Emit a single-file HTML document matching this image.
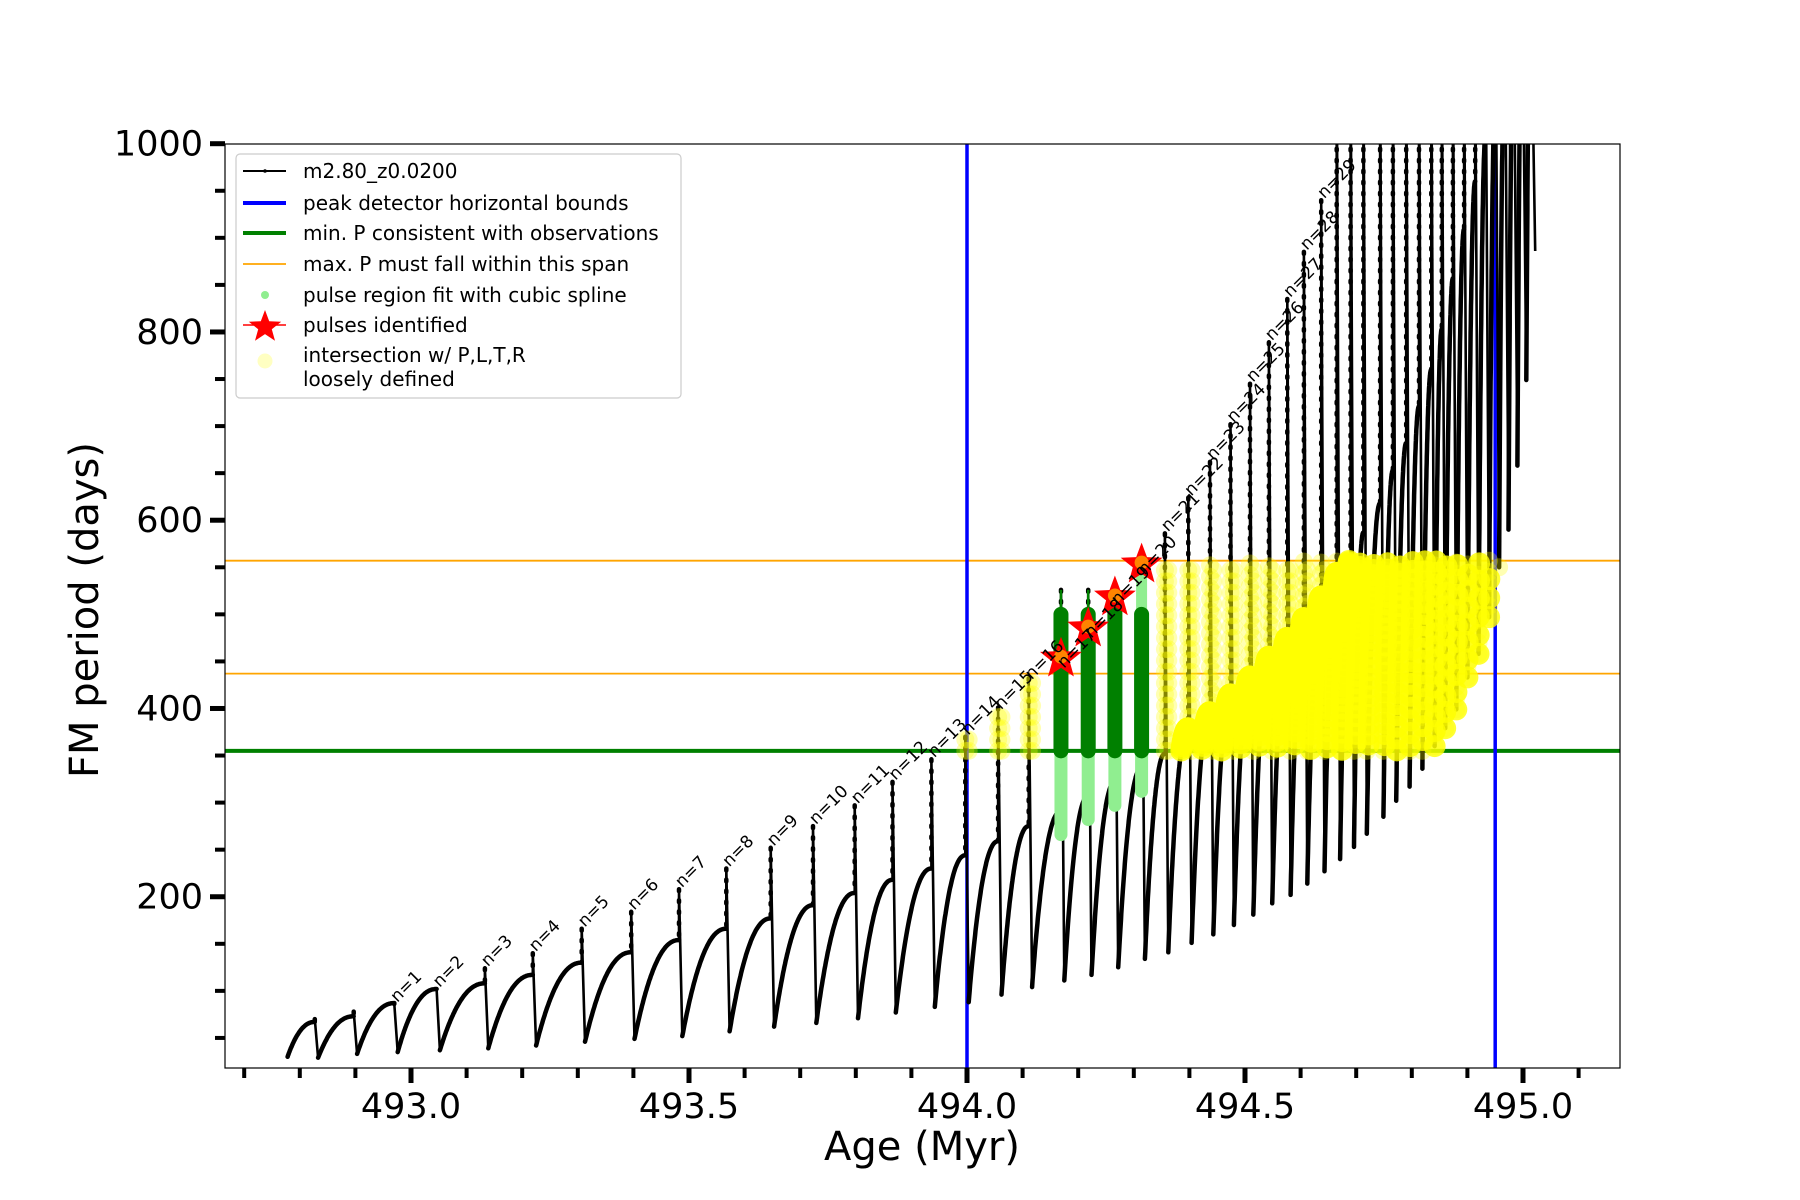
<!DOCTYPE html>
<html><head><meta charset="utf-8">
<style>
html,body{margin:0;padding:0;background:#fff;}
svg{display:block;font-family:"DejaVu Sans","Liberation Sans",sans-serif;}
</style></head>
<body>
<svg id="chart" width="1800" height="1200" viewBox="0 0 1800 1200" xmlns="http://www.w3.org/2000/svg">
<defs><clipPath id="clip"><rect x="225" y="144" width="1395" height="924"/></clipPath></defs>
<rect x="0" y="0" width="1800" height="1200" fill="#fff"/>
<g id="hlines" clip-path="url(#clip)"></g>
<g id="data" clip-path="url(#clip)"></g>
<g id="marks" clip-path="url(#clip)"></g>
<g id="labels" clip-path="url(#clip)"></g>
<rect x="225" y="144" width="1395" height="924" fill="none" stroke="#000" stroke-width="1.2"/>
<g id="axes"></g>
<text x="922" y="1160" font-size="40" text-anchor="middle">Age (Myr)</text>
<text x="0" y="0" font-size="40" text-anchor="middle" transform="translate(98,610) rotate(-90)">FM period (days)</text>
<g id="legend">
  <rect x="236" y="154" width="445" height="244" rx="4" fill="#fff" fill-opacity="0.8" stroke="#ccc" stroke-width="1.2"/>
  <g>
    <line x1="243" y1="171" x2="286" y2="171" stroke="#000" stroke-width="2"/><circle cx="265" cy="171" r="1.8" fill="#000"/>
    <text x="303" y="178" font-size="20">m2.80_z0.0200</text></g>
  <g>
    <line x1="243" y1="203" x2="286" y2="203" stroke="#0000ff" stroke-width="4"/>
    <text x="303" y="210" font-size="20">peak detector horizontal bounds</text></g>
  <g>
    <line x1="243" y1="233" x2="286" y2="233" stroke="#008000" stroke-width="4"/>
    <text x="303" y="240" font-size="20">min. P consistent with observations</text></g>
  <g>
    <line x1="243" y1="264" x2="286" y2="264" stroke="#ffa500" stroke-width="1.8"/>
    <text x="303" y="271" font-size="20">max. P must fall within this span</text></g>
  <g>
    <circle cx="265" cy="295" r="4" fill="#90ee90"/>
    <text x="303" y="302" font-size="20">pulse region fit with cubic spline</text></g>
  <g>
    <line x1="243" y1="325" x2="286" y2="325" stroke="#ff0000" stroke-width="1.5"/>
    <polygon id="legstar" fill="#ff0000"/>
    <text x="303" y="332" font-size="20">pulses identified</text></g>
  <g>
    <circle cx="265" cy="361" r="7.5" fill="#ffff66" fill-opacity="0.4"/>
    <text x="303" y="362" font-size="20">intersection w/ P,L,T,R</text>
    <text x="303" y="386" font-size="20">loosely defined</text></g>
</g>
</svg>
<script>
// ---- data ----
const startAge = 492.778;
const startP = 30;
const pulseAge = [492.827,492.897,492.970,493.046,493.133,493.219,493.307,493.396,493.482,493.567,493.647,493.723,493.798,493.866,493.936,493.997,494.056,494.111,494.169,494.218,494.266,494.314,494.356,494.398,494.437,494.474,494.509,494.543,494.576,494.606,494.637,494.665,494.690,494.713,494.743,494.766,494.790,494.813,494.835,494.854,494.874,494.894,494.914,494.933,494.951,494.968,494.984,495.000,495.016];
const peakP = [67,73,87,102,108,117,130,141,154,166,177,191,204,218,230,244,259,275,291,307,322,337,352,379,396,415,434,455,475,496,519,544,563,587,618,653,682,721,760,803,857,909,960,1010,1060,1100,1150,1200,1250];
const spikeP = [70,78,86,102,124,140,166,184,208,230,252,275,297,322,346,370,401,432,526,526,502,547,586,624,662,702,745,789,835,885,940,1100,1100,1100,1100,1100,1100,1100,1100,1100,1100,1100,1100,1100,1100,1100,1100,1100,1100];
const troughP = [29,33,35,37,39,42,46,49,52,57,62,66,71,77,83,88,96,104,111,117,125,134,141,151,160,170,181,193,202,214,227,240,253,267,285,302,317,336,360,379,399,433,458,497,550,590,658,749,886];
const labelNames = ["n=1","n=2","n=3","n=4","n=5","n=6","n=7","n=8","n=9","n=10","n=11","n=12","n=13","n=14","n=15","n=16","n=17","n=18","n=19","n=20","n=21","n=22","n=23","n=24","n=25","n=26","n=27","n=28","n=29"];
const labelP = [86,102,124,140,166,184,208,230,252,275,297,322,346,370,397,429,441,473,508,540,586,624,662,702,745,789,835,885,940];
const starAge = [494.169,494.218,494.266,494.314];
const starP = [455,487,520,555];
const greenCycles = [18,19,20,21];
const greenTop = [500,500,502,500];
const minP = 355;
const maxPLow = 437;
const maxPHigh = 557;
const boundAges = [494.0,494.95];
const xTicks = [493.0,493.5,494.0,494.5,495.0];
const xTickLabels = ["493.0","493.5","494.0","494.5","495.0"];
const yTicks = [200,400,600,800,1000];
const yTickLabels = ["200","400","600","800","1000"];

// ---- scales ----
const X = a => 411 + (a - 493) * 556;
const Y = p => 1085 - p * 0.9413;
const NS = "http://www.w3.org/2000/svg";
function mk(tag, attrs, parent){const e=document.createElementNS(NS,tag);for(const k in attrs)e.setAttribute(k,attrs[k]);parent.appendChild(e);return e;}
const gH=document.getElementById('hlines'), gD=document.getElementById('data'), gM=document.getElementById('marks'), gL=document.getElementById('labels'), gA=document.getElementById('axes');

// reference lines
[maxPHigh,maxPLow].forEach((v,i)=>{const l=mk('line',{x1:225,x2:1620,y1:Y(v),y2:Y(v),stroke:'#ffa500','stroke-width':1.8},gH);

});
{const l=mk('line',{x1:225,x2:1620,y1:Y(minP),y2:Y(minP),stroke:'#008000','stroke-width':4},gH);

}
boundAges.forEach((a,i)=>{const l=mk('line',{x1:X(a),x2:X(a),y1:144,y2:1068,stroke:'#0000ff','stroke-width':3.5},gH);

});

// curve
const dd = 0.006;
const risePts = [];
let d = '';
for(let i=0;i<pulseAge.length;i++){
  const a0 = i===0?startAge:pulseAge[i-1]+dd, p0 = i===0?startP:troughP[i-1];
  const a1 = pulseAge[i], p1 = peakP[i];
  const pts=[];
  for(let k=0;k<=60;k++){const u=k/60;const a=a0+(a1-a0)*u;const p=p0+(p1-p0)*(1-Math.pow(1-u,2.2));pts.push([a,p]);}
  risePts.push(pts);
  d += 'M'+pts.map(q=>X(q[0]).toFixed(1)+','+Y(q[1]).toFixed(1)).join(' L');
}
const curve = mk('path',{d:d,fill:'none',stroke:'#000','stroke-width':4.5,'stroke-linejoin':'round','stroke-linecap':'round'},gD);


let ds='';
for(let i=0;i<pulseAge.length;i++){
  ds += 'M'+X(pulseAge[i]).toFixed(1)+','+Y(peakP[i]).toFixed(1)+' L'+X(pulseAge[i]).toFixed(1)+','+Y(spikeP[i]).toFixed(1)+' L'+X(pulseAge[i]+dd).toFixed(1)+','+Y(troughP[i]).toFixed(1);
}
const spikes = mk('path',{d:ds,fill:'none',stroke:'#000','stroke-width':2.6},gD);


let dsd='';
for(let i=0;i<pulseAge.length;i++){
  const x=X(pulseAge[i]);
  dsd += 'M'+x.toFixed(1)+','+Y(spikeP[i]).toFixed(1)+' L'+x.toFixed(1)+','+Y(peakP[i]).toFixed(1);
}
const dots = mk('path',{d:dsd,fill:'none',stroke:'#000','stroke-width':4.5,'stroke-dasharray':'2 9','stroke-linecap':'round'},gD);



// yellow intersection markers
for(let i=0;i<pulseAge.length;i++){
  if(pulseAge[i]<boundAges[0]-0.01||pulseAge[i]>boundAges[1]+0.01) continue;
  if(greenCycles.includes(i)) continue;
  const g=mk('g',{},gM);
  
  
  if(i>22){
    risePts[i].forEach((q,k)=>{ if(q[1]>=minP && q[1]<=maxPHigh) mk('circle',{cx:X(q[0]),cy:Y(q[1]),r:11,fill:'#ffff00','fill-opacity':0.8},g);});
  }
  const top=Math.min(spikeP[i],maxPHigh), bot=Math.max(minP,peakP[i]);
  for(let p=bot;p<=top;p+=12) mk('circle',{cx:X(pulseAge[i]),cy:Y(p),r:9,fill:'#ffff00','fill-opacity':0.3},g);
  const bot2=Math.max(minP,troughP[i]);
  for(let p=bot2;p<=top;p+=12) mk('circle',{cx:X(pulseAge[i]+dd),cy:Y(p),r:9,fill:'#ffff00','fill-opacity':0.3},g);
}
// green spline regions
greenCycles.forEach((ci,j)=>{
  const g=mk('g',{},gM);
  
  
  const x=X(pulseAge[ci]);
  const gt=greenTop[j];
  mk('line',{x1:x,x2:x,y1:Y(peakP[ci]-25),y2:Y(minP),stroke:'#90ee90','stroke-width':13,'stroke-linecap':'round'},g);
  if(j<2){
    mk('line',{x1:x,x2:x,y1:Y(gt),y2:Y(spikeP[ci]),stroke:'#008000','stroke-width':2.5},g);
  } else {
    mk('line',{x1:x,x2:x,y1:Y(gt),y2:Y(spikeP[ci]),stroke:'#90ee90','stroke-width':11,'stroke-linecap':'round'},g);
  }
  mk('line',{x1:x,x2:x,y1:Y(minP),y2:Y(gt),stroke:'#008000','stroke-width':15,'stroke-linecap':'round'},g);
});
// stars
function starPts(cx,cy,R){const r=R*0.42;let s=[];for(let k=0;k<10;k++){const ang=-Math.PI/2+k*Math.PI/5;const rr=k%2?r:R;s.push((cx+rr*Math.cos(ang)).toFixed(1)+','+(cy+rr*Math.sin(ang)).toFixed(1));}return s.join(' ');}
starAge.forEach((a,i)=>{
  const s=mk('polygon',{points:starPts(X(a),Y(starP[i])+2,22),fill:'#ff0000'},gM);
  
  
  const c=mk('circle',{cx:X(a),cy:Y(starP[i]),r:7,fill:'#ffa500','fill-opacity':0.8},gM);
  
  
});
document.getElementById('legstar').setAttribute('points',starPts(265,327,17));
// n labels
labelNames.forEach((t,i)=>{
  const ci=i+2;
  const x=X(pulseAge[ci])+3, y=Y(labelP[i])-1;
  const e=mk('text',{x:0,y:0,'font-size':17,transform:'translate('+x.toFixed(1)+','+y.toFixed(1)+') rotate(-45)'},gL);
  e.textContent=t;
  
  
});
// axes ticks
for(let k=0;k<=25;k++){const a=492.7+k*0.1;const x=X(a);if(x<225||x>1620)continue;
  const major=xTicks.some(v=>Math.abs(v-a)<1e-6);
  const t=mk('line',{x1:x,x2:x,y1:1068,y2:1068+(major?15:10),stroke:'#000','stroke-width':major?5:4},gA);
  
  }
xTicks.forEach((v,i)=>{const e=mk('text',{x:X(v),y:1118,'font-size':35,'text-anchor':'middle'},gA);e.textContent=xTickLabels[i];
  
  });
for(let p=50;p<=1000;p+=50){const y=Y(p);
  const major=yTicks.includes(p);
  const t=mk('line',{x1:225,x2:225-(major?15:10),y1:y,y2:y,stroke:'#000','stroke-width':major?5:4},gA);
  
  }
yTicks.forEach((v,i)=>{const e=mk('text',{x:203,y:Y(v)+12,'font-size':35,'text-anchor':'end'},gA);e.textContent=yTickLabels[i];
  
  });
</script>
</body></html>
